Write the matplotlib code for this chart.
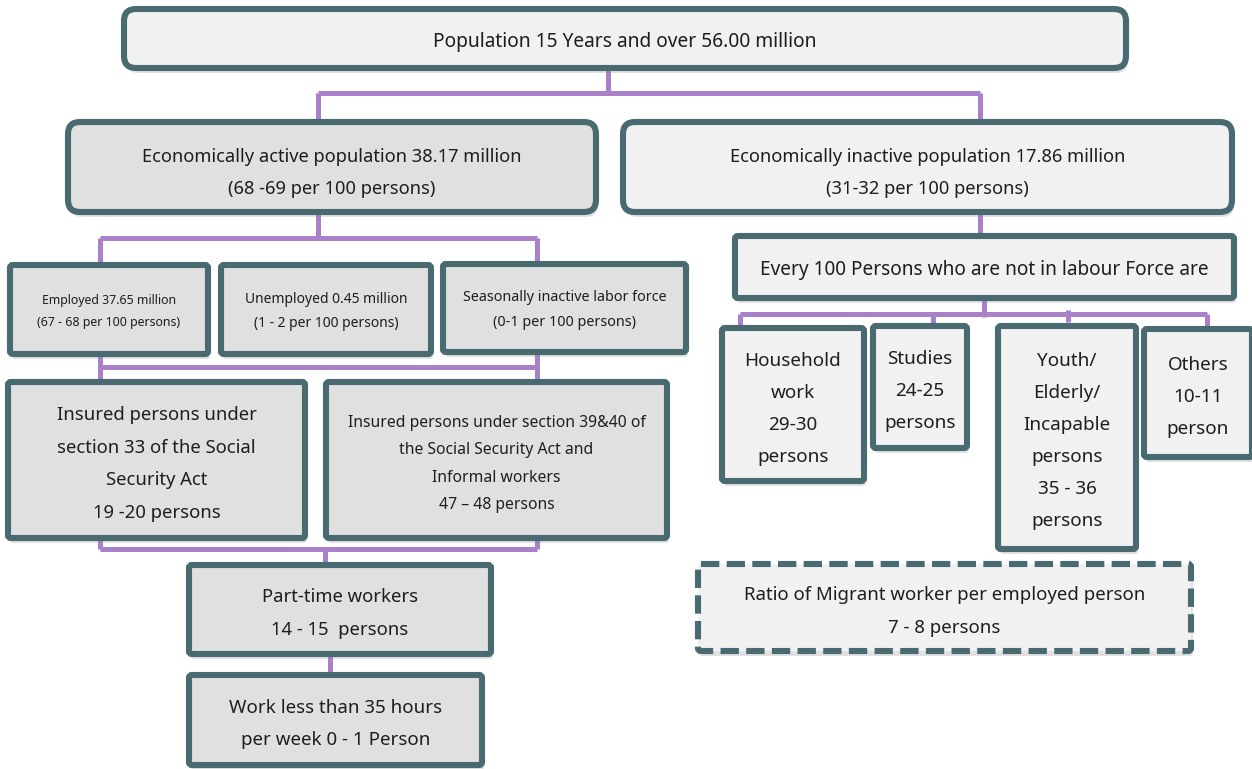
import matplotlib
matplotlib.use("Agg")
import matplotlib.pyplot as plt
from matplotlib.patches import FancyBboxPatch

plt.rcParams["font.family"] = ["Noto Sans", "DejaVu Sans"]

# --- chart content -------------------------------------------------------
top_label = "Population 15 Years and over 56.00 million"
active_label = "Economically active population 38.17 million\n(68 -69 per 100 persons)"
inactive_label = "Economically inactive population 17.86 million\n(31-32 per 100 persons)"
labour_labels = ["Employed 37.65 million\n(67 - 68 per 100 persons)",
                 "Unemployed 0.45 million\n(1 - 2 per 100 persons)",
                 "Seasonally inactive labor force\n(0-1 per 100 persons)"]
insured_labels = ["Insured persons under\nsection 33 of the Social\nSecurity Act\n19 -20 persons",
                  "Insured persons under section 39&40 of\nthe Social Security Act and\n"
                  "Informal workers\n47 \u2013 48 persons"]
parttime_label = "Part-time workers\n14 - 15  persons"
lesshours_label = "Work less than 35 hours\nper week 0 - 1 Person"
every100_label = "Every 100 Persons who are not in labour Force are"
inactive_groups = ["Household\nwork\n29-30\npersons",
                   "Studies\n24-25\npersons",
                   "Youth/\nElderly/\nIncapable\npersons\n35 - 36\npersons",
                   "Others\n10-11\nperson"]
migrant_label = "Ratio of Migrant worker per employed person\n7 - 8 persons"

# --- styling -------------------------------------------------------------
EDGE = "#4a6a72"
DARK = "#e0e0e0"
LIGHT = "#f1f1f1"
PURPLE = "#aa80c8"

fig = plt.figure(figsize=(12.52, 7.69), dpi=100)
ax = fig.add_axes([0, 0, 1, 1])
ax.set_xlim(0, 1252)
ax.set_ylim(769, 0)
ax.axis("off")


def box(x0, y0, x1, y1, text, fill, size, r=3, ls="-", spacing=2.0, dy=4, lw=4.4):
    # soft shadow first
    sh = FancyBboxPatch((x0 + 2, y0 + 5), x1 - x0, y1 - y0,
                        boxstyle=f"round,pad=0,rounding_size={r}",
                        fc="#888888", ec="none", alpha=0.25, zorder=2)
    ax.add_patch(sh)
    p = FancyBboxPatch((x0, y0), x1 - x0, y1 - y0,
                       boxstyle=f"round,pad=0,rounding_size={r}",
                       fc=fill, ec=EDGE, lw=lw, ls=ls, zorder=3)
    ax.add_patch(p)
    ax.text((x0 + x1) / 2, (y0 + y1) / 2 + dy, text, ha="center", va="center",
            fontsize=size, color="#1e1e1e", linespacing=spacing, zorder=4)


def line(xs, ys):
    ax.plot(xs, ys, color=PURPLE, lw=3.6, solid_capstyle="butt", zorder=1)


# connectors
line([608, 608], [70, 93])
line([318, 980], [93, 93])
line([318, 318], [93, 122])
line([980, 980], [93, 122])
line([318, 318], [212, 238])
line([100, 537], [238, 238])
line([100, 100], [238, 265])
line([537, 537], [238, 265])
line([100, 100], [354, 382])
line([537, 537], [354, 382])
line([100, 537], [367, 367])
line([100, 100], [538, 549])
line([537, 537], [538, 549])
line([100, 537], [549, 549])
line([325, 325], [549, 565])
line([330, 330], [654, 675])
line([980, 980], [212, 236])
line([984, 984], [298, 317])
line([740, 1207], [314, 314])
line([740, 740], [314, 328])
line([933, 933], [314, 326])
line([1068, 1068], [310, 322])
line([1207, 1207], [314, 330])

# boxes
box(124, 9, 1126, 68, top_label, LIGHT, 13.8, r=12, dy=3)
box(68, 122, 596, 212, active_label, DARK, 13.2, r=12, spacing=1.95, dy=6)
box(623, 122, 1232, 212, inactive_label, LIGHT, 13.2, r=12, spacing=1.95, dy=6)

labour_pos = [(10, 265, 208, 354), (221, 265, 431, 354), (443, 264, 686, 352)]
labour_size = [8.9, 10, 10.3]
labour_spacing = [1.95, 1.86, 1.9]
for (x0, y0, x1, y1), t, s, sp in zip(labour_pos, labour_labels, labour_size, labour_spacing):
    box(x0, y0, x1, y1, t, DARK, s, spacing=sp, dy=2)

box(8, 382, 305, 538, insured_labels[0], DARK, 13.3, spacing=2.05)
box(326, 382, 667, 538, insured_labels[1], DARK, 11.3, spacing=1.94)
box(189, 565, 491, 654, parttime_label, DARK, 13.3, spacing=2.12)
box(189, 675, 482, 765, lesshours_label, DARK, 13.5, spacing=2.05)

box(735, 236, 1234, 298, every100_label, LIGHT, 13.7, dy=3)
group_pos = [(722, 328, 864, 481), (873, 326, 967, 448),
             (998, 326, 1136, 549), (1144, 329, 1252, 457)]
for (x0, y0, x1, y1), t in zip(group_pos, inactive_groups):
    box(x0, y0, x1, y1, t, LIGHT, 13.6, spacing=2.0)

box(698, 564, 1191, 651, migrant_label, LIGHT, 13.4, ls=(0, (3, 1.2)), spacing=2.02)

fig.savefig("out.png", dpi=100, facecolor="white")
